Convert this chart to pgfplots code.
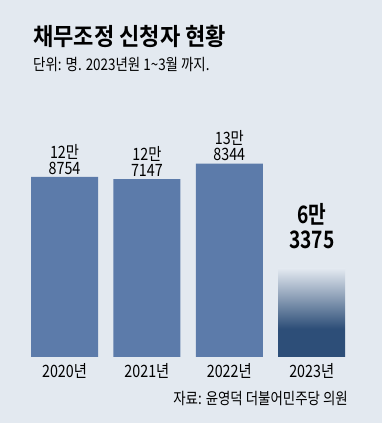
\documentclass[border=0pt]{standalone}
\usepackage{fontspec}
\setmainfont{Noto Sans CJK KR}
\newfontfamily\condf{Noto Sans CJK KR}[FakeStretch=0.84]
\newfontfamily\condb{Noto Sans CJK KR Bold}[FakeStretch=0.8]
\newfontfamily\titlef{Noto Sans CJK KR Bold}[FakeStretch=0.92]
\usepackage{pgfplots}
\pgfplotsset{compat=1.18}
\definecolor{bg}{HTML}{E3E9F0}
\definecolor{barc}{HTML}{5C7BAA}
\definecolor{darkb}{HTML}{2D4E78}
\pgfdeclareverticalshading{fadebar}{100bp}{color(0bp)=(darkb); color(25bp)=(darkb); color(41bp)=(darkb); color(75bp)=(bg); color(100bp)=(bg)}
\begin{document}
\begin{tikzpicture}[x=1pt,y=1pt]
\fill[bg] (0,0) rectangle (382,423);
\useasboundingbox (0,0) rectangle (382,423);
\begin{axis}[
  at={(0pt,66pt)}, anchor=south west,
  scale only axis, width=382pt, height=357pt,
  xmin=-0.783, xmax=3.853, ymin=0, ymax=255362,
  hide y axis,
  axis x line*=bottom,
  x axis line style={draw=none},
  major tick length=0pt,
  xtick={0,1,2,3},
  xticklabels={2020년,2021년,2022년,2023년},
  xticklabel style={font=\condf\fontsize{17}{17}\selectfont, anchor=base, yshift=-21pt},
  clip=false,
]
\addplot[ybar, bar shift=0pt, bar width=67pt, fill=barc, draw=none,
  nodes near coords, point meta=explicit symbolic,
  nodes near coords style={font=\condf\fontsize{17}{16}\selectfont, align=center, anchor=south, yshift=-1pt}]
  coordinates {(0,128754) [12만\\8754] (1,127147) [12만\\7147] (2,138344) [13만\\8344]};
\addplot[ybar, bar shift=0pt, bar width=67pt, draw=none, shade, shading=fadebar,
  nodes near coords, point meta=explicit symbolic,
  nodes near coords style={font=\condb\fontsize{24}{25}\selectfont, align=center, anchor=south, yshift=16pt}]
  coordinates {(3,63375) [6만\\3375]};
\end{axis}
\node[anchor=base west, inner sep=0, font=\titlef\fontsize{24}{24}\selectfont] at (33,377) {채무조정 신청자 현황};
\node[anchor=base west, inner sep=0, font=\condf\fontsize{16}{16}\selectfont] at (33,352) {단위: 명. 2023년원 1\textasciitilde3월 까지.};
\node[anchor=base east, inner sep=0, font=\condf\fontsize{16}{16}\selectfont] at (348,19) {자료: 윤영덕 더불어민주당 의원};
\end{tikzpicture}
\end{document}
